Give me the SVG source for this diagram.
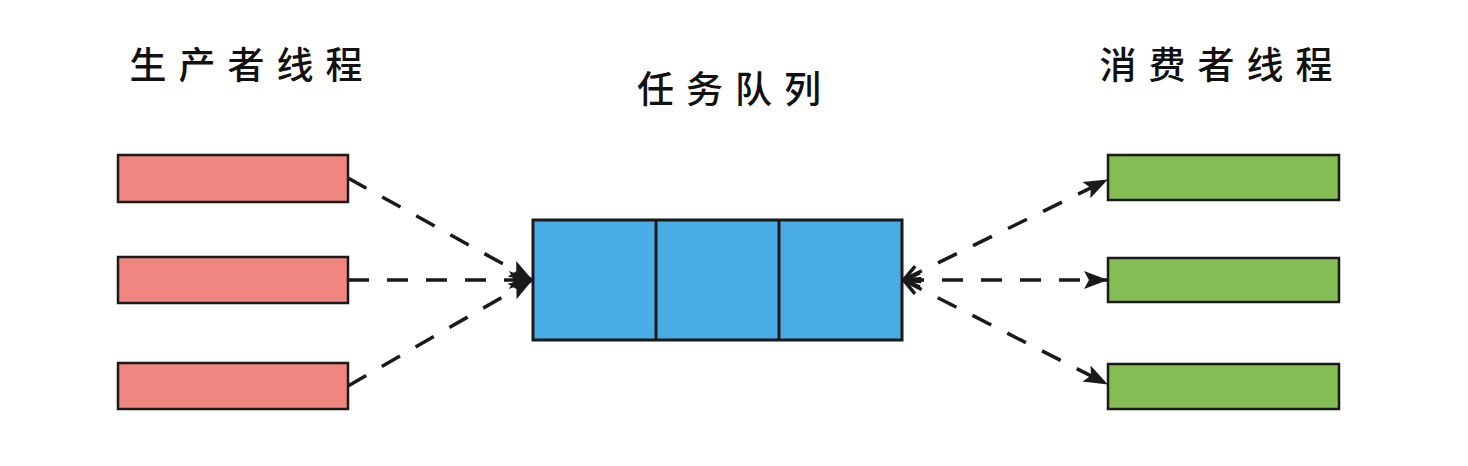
<svg xmlns="http://www.w3.org/2000/svg" width="1468" height="466" viewBox="0 0 1468 466">
<defs>
<style>
.lbl{font-family:"Noto Sans CJK SC","Noto Sans",sans-serif;font-size:37px;font-weight:500;fill:#111;letter-spacing:12px;text-anchor:middle}
.red{fill:#F08680;stroke:#1a1a1a;stroke-width:2.5}
.green{fill:#85BD55;stroke:#1a1a1a;stroke-width:2.5}
.blue{fill:#4BADE8;stroke:#1a1a1a;stroke-width:3}
.edge{fill:none;stroke:#1a1a1a;stroke-width:3.5;stroke-dasharray:21 18}
</style>
<marker id="fill" viewBox="0 0 24 24" refX="23" refY="12" markerWidth="24" markerHeight="24" markerUnits="userSpaceOnUse" orient="auto">
<path d="M0,3 L24,12 L0,21 L5,12 Z" fill="#1a1a1a"/>
</marker>
<marker id="open" viewBox="0 0 20 20" refX="1" refY="10" markerWidth="20" markerHeight="20" markerUnits="userSpaceOnUse" orient="auto">
<path d="M18,3 L2,10 L18,17" fill="none" stroke="#1a1a1a" stroke-width="3.5"/>
</marker>
</defs>
<rect width="1468" height="466" fill="#fff"/>
<g id="label-producer"><text class="lbl" x="252" y="79">生产者线程</text></g>
<g id="label-queue"><text class="lbl" x="735" y="103">任务队列</text></g>
<g id="label-consumer"><text class="lbl" x="1222" y="79">消费者线程</text></g>
<g id="producer1"><rect class="red" x="118" y="155" width="230" height="47"/></g>
<g id="producer2"><rect class="red" x="118" y="257" width="230" height="46"/></g>
<g id="producer3"><rect class="red" x="118" y="363" width="230" height="46"/></g>
<g id="queue">
<rect class="blue" x="533" y="220" width="369" height="120"/>
<line x1="656" y1="220" x2="656" y2="340" stroke="#1a1a1a" stroke-width="3"/>
<line x1="779" y1="220" x2="779" y2="340" stroke="#1a1a1a" stroke-width="3"/>
</g>
<g id="consumer1"><rect class="green" x="1108" y="155" width="231" height="45"/></g>
<g id="consumer2"><rect class="green" x="1108" y="258" width="231" height="44"/></g>
<g id="consumer3"><rect class="green" x="1108" y="364" width="231" height="45"/></g>
<g id="connectors">
<path class="edge" d="M348,178 L532,280" marker-end="url(#fill)"/>
<path class="edge" d="M348,280 L532,280" marker-end="url(#fill)"/>
<path class="edge" d="M348,386 L532,280" marker-end="url(#fill)"/>
<path class="edge" d="M903,280 L1107,180" marker-start="url(#open)" marker-end="url(#fill)"/>
<path class="edge" d="M903,280 L1107,280" marker-start="url(#open)" marker-end="url(#fill)"/>
<path class="edge" d="M903,280 L1107,384" marker-start="url(#open)" marker-end="url(#fill)"/>
</g>
</svg>
